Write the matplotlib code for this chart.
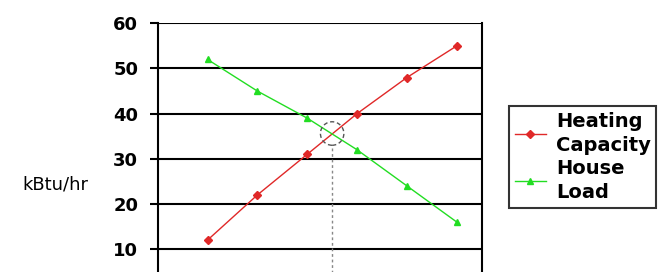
import matplotlib.pyplot as plt
from matplotlib.patches import Ellipse

# data
points = [1, 2, 3, 4, 5, 6]
heating_capacity = [12, 22, 31, 40, 48, 55]
house_load = [52, 45, 39, 32, 24, 16]
y_ticks = [10, 20, 30, 40, 50, 60]
balance_x = 3.5
balance_y = 35.6

fig = plt.figure(figsize=(6.69, 2.72), dpi=100)
ax = fig.add_axes([0.2357, -0.082, 0.4843, 0.9963])

for y in y_ticks:
    ax.axhline(y, color='black', lw=1.5, zorder=1)

ax.plot(points, heating_capacity, color='#e02828', marker='D', ms=4, lw=1,
        label='Heating\nCapacity', zorder=3)
ax.plot(points, house_load, color='#22dd22', marker='^', ms=5, lw=1,
        label='House\nLoad', zorder=3)

# balance point marker
ax.add_patch(Ellipse((balance_x, balance_y), width=0.47, height=5.2, fill=False,
                     ec='#555555', ls=(0, (3, 2)), lw=1, zorder=4))
ax.plot([balance_x, balance_x], [0, balance_y - 2.6], color='#888888',
        ls=(0, (2, 2)), lw=1, zorder=2)

ax.set_xlim(0, 6.5)
ax.set_ylim(0, 60)
ax.set_yticks(y_ticks)
ax.set_yticklabels([str(v) for v in y_ticks], fontsize=13, fontweight='bold')
ax.set_xticks([])
ax.tick_params(axis='y', length=6, width=1.5, pad=8)
for side in ['top', 'bottom']:
    ax.spines[side].set_visible(False)
for side in ['left', 'right']:
    ax.spines[side].set_linewidth(1.5)

fig.text(0.083, 0.32, 'kBtu/hr', fontsize=13, ha='center', va='center')

leg = fig.legend(loc='upper left', bbox_to_anchor=(0.761, 0.61), frameon=True,
                 fancybox=False, edgecolor='black', handlelength=1.6,
                 borderpad=0.3, labelspacing=0.2, handletextpad=0.5,
                 borderaxespad=0, prop={'weight': 'bold', 'size': 14})
leg.get_frame().set_linewidth(1.5)
for t in leg.get_texts():
    t.set_linespacing(1.35)

fig.savefig('out.png', dpi=100)
